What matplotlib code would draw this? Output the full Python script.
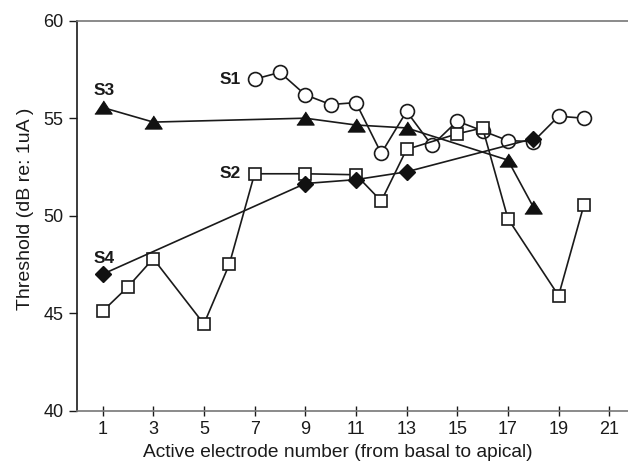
import matplotlib.pyplot as plt

plt.rcParams['font.family'] = ['Liberation Sans', 'DejaVu Sans']

# S1 - open circles
s1_x = [7, 8, 9, 10, 11, 12, 13, 14, 15, 16, 17, 18, 19, 20]
s1_y = [57.0, 57.35, 56.2, 55.7, 55.8, 53.2, 55.35, 53.6, 54.85, 54.35, 53.85, 53.8, 55.1, 55.0]

# S2 - open squares
s2_x = [1, 2, 3, 5, 6, 7, 9, 11, 12, 13, 15, 16, 17, 19, 20]
s2_y = [45.1, 46.35, 47.8, 44.45, 47.5, 52.15, 52.15, 52.1, 50.75, 53.4, 54.2, 54.5, 49.85, 45.9, 50.55]

# S3 - filled triangles
s3_x = [1, 3, 9, 11, 13, 17, 18]
s3_y = [55.55, 54.8, 55.0, 54.65, 54.5, 52.85, 50.45]

# S4 - filled diamonds
s4_x = [1, 9, 11, 13, 18]
s4_y = [47.0, 51.65, 51.85, 52.25, 53.95]

labels = ['S1', 'S2', 'S3', 'S4']
label_x = [6.03, 6.03, 1.07, 1.07]
label_y = [57.0, 52.15, 56.4, 47.8]

fig = plt.figure(figsize=(6.28, 4.68), dpi=100)
ax = fig.add_axes([0.123, 0.1224, 0.877, 0.8334])

lc = '#1a1a1a'
tri = [(-1, -0.76), (1, -0.76), (0, 0.76)]  # slightly squat triangle like the original

ax.plot(s1_x, s1_y, '-', color=lc, lw=1.2, marker='o', ms=10,
        mfc='white', mec=lc, mew=1.2, zorder=3)
ax.plot(s3_x, s3_y, '-', color=lc, lw=1.2, marker=tri, ms=12.5,
        mfc='#111111', mec='#111111', mew=0.8, zorder=4)
ax.plot(s2_x, s2_y, '-', color=lc, lw=1.2, marker='s', ms=9,
        mfc='white', mec=lc, mew=1.2, zorder=5)
ax.plot(s4_x, s4_y, '-', color=lc, lw=1.2, marker='D', ms=8.5,
        mfc='#111111', mec='#111111', zorder=6)

for t, x, y in zip(labels, label_x, label_y):
    ax.text(x, y, t, ha='center', va='center', fontsize=12.5, fontweight='bold', color='#1a1a1a')

ax.set_xlim(0, 21.74)
ax.set_ylim(40, 60)
ax.set_xticks(range(1, 22, 2))
ax.set_yticks([40, 45, 50, 55, 60])

ax.spines['right'].set_visible(False)
ax.spines['top'].set_color('#777777')
ax.spines['bottom'].set_color('#777777')
ax.spines['left'].set_color('#1a1a1a')
for s in ax.spines.values():
    s.set_linewidth(1.2)

ax.tick_params(axis='x', direction='inout', length=7, width=1, colors='#1a1a1a', labelsize=13, pad=4)
ax.tick_params(axis='y', direction='out', length=6, width=1, colors='#1a1a1a', labelsize=13, pad=4)

ax.set_xlabel('Active electrode number (from basal to apical)', fontsize=13.8, color='#1a1a1a')
ax.set_ylabel('Threshold (dB re: 1uA )', fontsize=14, color='#1a1a1a')
ax.xaxis.set_label_coords(0.473, -0.085)
ax.yaxis.set_label_coords(-0.079, 0.517)

fig.savefig('out.png', dpi=100)
